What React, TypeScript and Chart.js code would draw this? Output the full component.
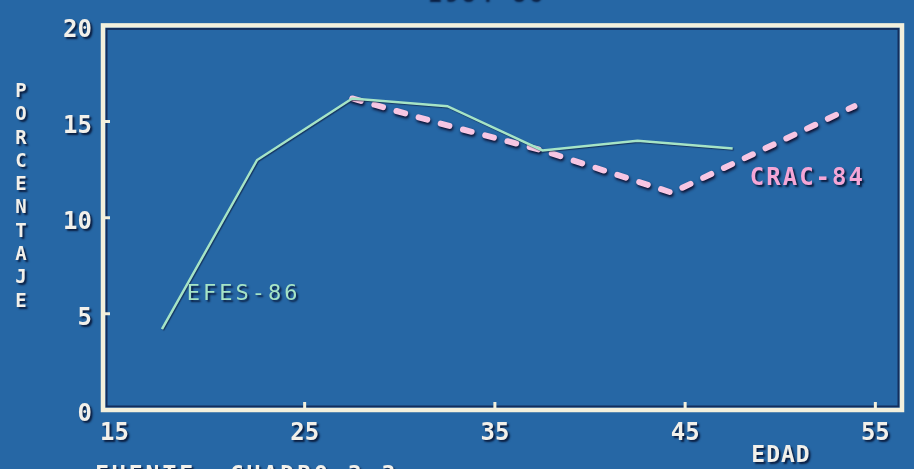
import React, { useEffect, useRef } from "react";
import { Chart, registerables } from "chart.js";

Chart.register(...registerables);

// ---- data ----
const xTickValues = [15, 25, 35, 45, 55];
const yTickValues = [0, 5, 10, 15, 20];
const efesAges = [17.5, 22.5, 27.5, 32.5, 37.5, 42.5, 47.5];
const efesValues = [4.2, 13.0, 16.2, 15.8, 13.5, 14.0, 13.6];
const cracAges = [27.5, 32.5, 37.5, 44.3, 53.9];
const cracValues = [16.2, 14.8, 13.5, 11.3, 15.8];
const seriesNames = ["EFES-86", "CRAC-84"];
const xTitle = "EDAD";
const yTitle = "PORCENTAJE";
const sourceNote = "FUENTE: CUADRO 3.3";
const topTitle = "1984-86";

const BG = "#2667a5";
const FRAME = "#f3f0dc";
const TEXT = "#f2f0ea";
const GREEN = "#a6e4c6";
const PINK = "#f7c6e3";
const FONT = "'DejaVu Sans Mono', monospace";

function setShadow(ctx: CanvasRenderingContext2D, on: boolean) {
  if (on) {
    ctx.shadowColor = "rgba(5,15,45,0.85)";
    ctx.shadowBlur = 2;
    ctx.shadowOffsetX = 2;
    ctx.shadowOffsetY = 2;
  } else {
    ctx.shadowColor = "rgba(0,0,0,0)";
    ctx.shadowBlur = 0;
    ctx.shadowOffsetX = 0;
    ctx.shadowOffsetY = 0;
  }
}

const retroPlugin = {
  id: "retro",
  beforeDraw(chart: any) {
    const ctx: CanvasRenderingContext2D = chart.ctx;
    ctx.save();
    ctx.fillStyle = BG;
    ctx.fillRect(0, 0, chart.width, chart.height);
    ctx.restore();
    setShadow(ctx, true);
  },
  beforeDatasetsDraw(chart: any) {
    const ctx: CanvasRenderingContext2D = chart.ctx;
    setShadow(ctx, false);
    const { left, right, top, bottom } = chart.chartArea;
    const xs = chart.scales.x;
    const ys = chart.scales.y;
    ctx.save();
    // dark inner line
    ctx.strokeStyle = "rgba(12,22,60,0.7)";
    ctx.lineWidth = 2;
    ctx.strokeRect(left + 3.5, top + 3.5, right - left - 7, bottom - top - 7);
    // white frame
    ctx.strokeStyle = FRAME;
    ctx.lineWidth = 4.5;
    ctx.strokeRect(left, top, right - left, bottom - top);
    // inward ticks
    ctx.lineWidth = 3;
    ctx.beginPath();
    xTickValues.forEach((v) => {
      const px = xs.getPixelForValue(v);
      if (px - left < 20) return;
      ctx.moveTo(px, bottom);
      ctx.lineTo(px, bottom - 8);
    });
    yTickValues.forEach((v) => {
      const py = ys.getPixelForValue(v);
      if (py - top < 20 || bottom - py < 20) return;
      ctx.moveTo(left, py);
      ctx.lineTo(left + 7, py);
    });
    ctx.stroke();
    ctx.restore();
  },
  beforeDatasetDraw(chart: any, args: any) {
    const ctx: CanvasRenderingContext2D = chart.ctx;
    if (args.index === 1) {
      ctx.shadowColor = "rgba(10,10,40,0.95)";
      ctx.shadowBlur = 3;
      ctx.shadowOffsetX = 1;
      ctx.shadowOffsetY = 2;
    } else {
      ctx.shadowColor = "rgba(10,20,50,0.6)";
      ctx.shadowBlur = 1;
      ctx.shadowOffsetX = 1;
      ctx.shadowOffsetY = 1;
    }
  },
  afterDatasetDraw(chart: any) {
    setShadow(chart.ctx, false);
  },
  afterDatasetsDraw(chart: any) {
    const ctx: CanvasRenderingContext2D = chart.ctx;
    const xs = chart.scales.x;
    const ys = chart.scales.y;
    ctx.save();
    setShadow(ctx, true);
    ctx.textBaseline = "middle";

    // series labels placed in data coordinates
    ctx.textAlign = "left";
    (ctx as any).letterSpacing = "3px";
    ctx.fillStyle = GREEN;
    ctx.font = `normal 22px ${FONT}`;
    ctx.fillText(seriesNames[0], xs.getPixelForValue(18.8), ys.getPixelForValue(6.0));

    (ctx as any).letterSpacing = "2px";
    ctx.fillStyle = "#f4a6d6";
    ctx.font = `bold 24px ${FONT}`;
    ctx.fillText(seriesNames[1], xs.getPixelForValue(48.4), ys.getPixelForValue(12.0));

    // axis titles and notes
    (ctx as any).letterSpacing = "0px";
    ctx.fillStyle = TEXT;
    ctx.textAlign = "center";
    ctx.font = `bold 19px ${FONT}`;
    const letters = yTitle.split("");
    letters.forEach((ch, i) => {
      ctx.fillText(ch, 21, 92 + i * 23.3);
    });

    ctx.font = `bold 23px ${FONT}`;
    (ctx as any).letterSpacing = "1px";
    ctx.fillText(xTitle, 781, 456);

    ctx.textAlign = "left";
    ctx.textBaseline = "top";
    (ctx as any).letterSpacing = "3px";
    ctx.fillText(sourceNote, 95, 465);

    ctx.textAlign = "center";
    ctx.textBaseline = "bottom";
    ctx.fillText(topTitle, 485, 6);
    ctx.restore();
  },
};

export default function App() {
  const ref = useRef<HTMLCanvasElement | null>(null);
  useEffect(() => {
    if (!ref.current) return;
    const chart = new Chart(ref.current, {
      type: "line",
      data: {
        datasets: [
          {
            label: seriesNames[0],
            data: efesAges.map((x, i) => ({ x, y: efesValues[i] })),
            borderColor: GREEN,
            borderWidth: 2.5,
            pointRadius: 0,
            tension: 0,
            fill: false,
          },
          {
            label: seriesNames[1],
            data: cracAges.map((x, i) => ({ x, y: cracValues[i] })),
            borderColor: PINK,
            borderWidth: 6,
            borderDash: [9, 14],
            borderCapStyle: "round",
            pointRadius: 0,
            tension: 0,
            fill: false,
          },
        ],
      },
      options: {
        responsive: false,
        animation: false,
        layout: { padding: { top: 14, right: 12, left: 0, bottom: 0 } },
        plugins: {
          legend: { display: false },
          tooltip: { enabled: false },
          title: { display: false },
        },
        scales: {
          x: {
            type: "linear",
            min: 14.4,
            max: 56.4,
            grid: { display: false, drawTicks: false },
            border: { display: false },
            ticks: {
              color: TEXT,
              font: { family: FONT, size: 24, weight: "bold" },
              padding: 9,
              maxRotation: 0,
              autoSkip: false,
            },
            afterBuildTicks: (s: any) => {
              s.ticks = xTickValues.map((v) => ({ value: v }));
            },
            afterFit: (s: any) => {
              s.height = 59;
            },
          },
          y: {
            type: "linear",
            min: 0,
            max: 20,
            grid: { display: false, drawTicks: false },
            border: { display: false },
            ticks: {
              color: TEXT,
              font: { family: FONT, size: 24, weight: "bold" },
              padding: 11,
              labelOffset: 5,
              autoSkip: false,
            },
            afterBuildTicks: (s: any) => {
              s.ticks = yTickValues.map((v) => ({ value: v }));
            },
            afterFit: (s: any) => {
              s.width = 103;
            },
          },
        },
      },
      plugins: [retroPlugin],
    } as any);
    return () => chart.destroy();
  }, []);

  return (
    <div style={{ position: "fixed", left: 0, top: 0, width: 914, height: 469, background: BG }}>
      <canvas ref={ref} width={914} height={469} style={{ width: 914, height: 469, display: "block" }} />
    </div>
  );
}
